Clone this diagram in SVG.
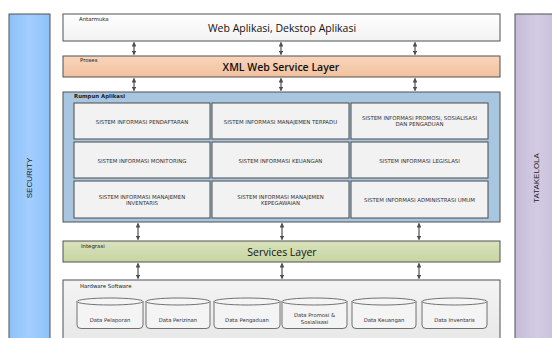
<svg xmlns="http://www.w3.org/2000/svg" width="552" height="338" viewBox="0 0 552 338">
<defs>
<linearGradient id="gSec" x1="0" y1="0" x2="1" y2="0">
<stop offset="0" stop-color="#8DC1FA"/><stop offset="0.5" stop-color="#A3CEFF"/><stop offset="1" stop-color="#8DC1FA"/>
</linearGradient>
<linearGradient id="gTata" x1="0" y1="0" x2="1" y2="0">
<stop offset="0" stop-color="#C6BCD9"/><stop offset="0.5" stop-color="#D3CBE2"/><stop offset="1" stop-color="#C6BCD9"/>
</linearGradient>
<linearGradient id="gWhite" x1="0" y1="0" x2="0" y2="1">
<stop offset="0" stop-color="#FFFFFF"/><stop offset="1" stop-color="#F2F2F2"/>
</linearGradient>
<linearGradient id="gPeach" x1="0" y1="0" x2="0" y2="1">
<stop offset="0" stop-color="#F9D5BC"/><stop offset="1" stop-color="#F2C19E"/>
</linearGradient>
<linearGradient id="gGreen" x1="0" y1="0" x2="0" y2="1">
<stop offset="0" stop-color="#D9E2BC"/><stop offset="1" stop-color="#C8D4A2"/>
</linearGradient>
<linearGradient id="gGrey" x1="0" y1="0" x2="0" y2="1">
<stop offset="0" stop-color="#F4F4F4"/><stop offset="1" stop-color="#E6E6E6"/>
</linearGradient>
<marker id="ah" viewBox="0 0 6 6" refX="5" refY="3" markerWidth="4" markerHeight="4" orient="auto-start-reverse">
<path d="M0,0 L6,3 L0,6 Z" fill="#505050"/>
</marker>
</defs>
<style>
.box{stroke:#505050;stroke-width:1}
.cell{fill:#F2F2F2;stroke:#4A4A4A;stroke-width:1}
.cyl{fill:#F4F4F4;stroke:#505050;stroke-width:0.8}
.lbl{font-family:"DejaVu Sans","Liberation Sans",sans-serif;font-size:5.4px;fill:#222}
.title{font-family:"Open Sans","Liberation Sans",sans-serif;font-size:10.5px;fill:#111;text-anchor:middle}
.ct{font-family:"DejaVu Sans","Liberation Sans",sans-serif;font-size:5.4px;fill:#333;text-anchor:middle}
.dt{font-family:"DejaVu Sans","Liberation Sans",sans-serif;font-size:5.3px;fill:#333;text-anchor:middle}
.side{font-family:"Liberation Sans",sans-serif;font-size:8px;fill:#222;text-anchor:middle}
.conn{stroke:#505050;stroke-width:1.2;fill:none;marker-start:url(#ah);marker-end:url(#ah)}
</style>

<g id="security">
<rect x="9" y="14" width="41" height="330" fill="url(#gSec)" stroke="#505050" stroke-width="1"/>
<text class="side" transform="translate(32,178) rotate(-90)">SECURITY</text>
</g>
<g id="tatakelola">
<rect x="515" y="14" width="45" height="330" fill="url(#gTata)" stroke="#505050" stroke-width="1"/>
<text class="side" transform="translate(539,178) rotate(-90)">TATAKELOLA</text>
</g>

<g id="antarmuka">
<rect class="box" x="63" y="14" width="437" height="27" fill="url(#gWhite)"/>
<text class="lbl" x="79" y="21">Antarmuka</text>
<text class="title" x="282" y="31.5">Web Aplikasi, Dekstop Aplikasi</text>
</g>

<g id="proses">
<rect class="box" x="63" y="56" width="437" height="21" fill="url(#gPeach)"/>
<text class="lbl" x="80" y="62">Proses</text>
<text class="title" x="281" y="70.5" font-weight="600">XML Web Service Layer</text>
</g>

<g id="rumpun">
<rect class="box" x="63" y="92" width="437" height="130" fill="#A9C6E0"/>
<text class="lbl" x="74" y="98" font-weight="bold">Rumpun Aplikasi</text>
</g>

<g id="c11"><rect class="cell" x="74" y="103" width="136" height="36"/><text class="ct" x="142" y="123.5">SISTEM INFORMASI PENDAFTARAN</text></g>
<g id="c12"><rect class="cell" x="212" y="103" width="137" height="36"/><text class="ct" x="280.5" y="123.5">SISTEM INFORMASI MANAJEMEN TERPADU</text></g>
<g id="c13"><rect class="cell" x="351" y="103" width="137" height="36"/><text class="ct" x="419.5" y="120">SISTEM INFORMASI PROMOSI, SOSIALISASI</text><text class="ct" x="419.5" y="126">DAN PENGADUAN</text></g>
<g id="c21"><rect class="cell" x="74" y="142" width="136" height="36"/><text class="ct" x="142" y="162.5">SISTEM INFORMASI MONITORING</text></g>
<g id="c22"><rect class="cell" x="212" y="142" width="137" height="36"/><text class="ct" x="280.5" y="162.5">SISTEM INFORMASI KEUANGAN</text></g>
<g id="c23"><rect class="cell" x="351" y="142" width="137" height="36"/><text class="ct" x="419.5" y="162.5">SISTEM INFORMASI LEGISLASI</text></g>
<g id="c31"><rect class="cell" x="74" y="181" width="136" height="37"/><text class="ct" x="142" y="198.5">SISTEM INFORMASI MANAJEMEN</text><text class="ct" x="142" y="204.5">INVENTARIS</text></g>
<g id="c32"><rect class="cell" x="212" y="181" width="137" height="37"/><text class="ct" x="280.5" y="198.5">SISTEM INFORMASI MANAJEMEN</text><text class="ct" x="280.5" y="204.5">KEPEGAWAIAN</text></g>
<g id="c33"><rect class="cell" x="351" y="181" width="137" height="37"/><text class="ct" x="419.5" y="201.5">SISTEM INFORMASI ADMINISTRASI UMUM</text></g>

<g id="integrasi">
<rect class="box" x="63" y="241" width="437" height="21" fill="url(#gGreen)"/>
<text class="lbl" x="81" y="248">Integrasi</text>
<text class="title" x="282" y="255.5">Services Layer</text>
</g>

<g id="hardware">
<rect class="box" x="63" y="280" width="437" height="70" fill="url(#gGrey)"/>
<text class="lbl" x="80" y="288">Hardware Software</text>
</g>

<g id="d1"><path class="cyl" d="M77,301.5 V325 Q77,328.5 81,328.5 H139 Q143,328.5 143,325 V301.5"/><ellipse class="cyl" cx="110" cy="301.5" rx="33" ry="3.5"/><text class="dt" x="110" y="321.5">Data Pelaporan</text></g>
<g id="d2"><path class="cyl" d="M146,301.5 V325 Q146,328.5 150,328.5 H206 Q210,328.5 210,325 V301.5"/><ellipse class="cyl" cx="178" cy="301.5" rx="32" ry="3.5"/><text class="dt" x="178" y="321.5">Data Perizinan</text></g>
<g id="d3"><path class="cyl" d="M214,301.5 V325 Q214,328.5 218,328.5 H276 Q280,328.5 280,325 V301.5"/><ellipse class="cyl" cx="247" cy="301.5" rx="33" ry="3.5"/><text class="dt" x="247" y="321.5">Data Pengaduan</text></g>
<g id="d4"><path class="cyl" d="M282,301.5 V325 Q282,328.5 286,328.5 H343 Q347,328.5 347,325 V301.5"/><ellipse class="cyl" cx="314.5" cy="301.5" rx="32.5" ry="3.5"/><text class="dt" x="314.5" y="317">Data Promosi &amp;</text><text class="dt" x="314.5" y="324">Sosialisasi</text></g>
<g id="d5"><path class="cyl" d="M352,301.5 V325 Q352,328.5 356,328.5 H412 Q416,328.5 416,325 V301.5"/><ellipse class="cyl" cx="384" cy="301.5" rx="32" ry="3.5"/><text class="dt" x="384" y="321.5">Data Keuangan</text></g>
<g id="d6"><path class="cyl" d="M422,301.5 V325 Q422,328.5 426,328.5 H483 Q487,328.5 487,325 V301.5"/><ellipse class="cyl" cx="454.5" cy="301.5" rx="32.5" ry="3.5"/><text class="dt" x="454.5" y="321.5">Data Inventaris</text></g>

<g id="connectors">
<line class="conn" x1="134" y1="42.5" x2="134" y2="54.5"/>
<line class="conn" x1="281" y1="42.5" x2="281" y2="54.5"/>
<line class="conn" x1="415" y1="42.5" x2="415" y2="54.5"/>
<line class="conn" x1="134" y1="78.5" x2="134" y2="90.5"/>
<line class="conn" x1="281" y1="78.5" x2="281" y2="90.5"/>
<line class="conn" x1="415" y1="78.5" x2="415" y2="90.5"/>
<line class="conn" x1="138" y1="223.5" x2="138" y2="239.5"/>
<line class="conn" x1="282" y1="223.5" x2="282" y2="239.5"/>
<line class="conn" x1="419" y1="223.5" x2="419" y2="239.5"/>
<line class="conn" x1="138" y1="263.5" x2="138" y2="278.5"/>
<line class="conn" x1="282" y1="263.5" x2="282" y2="278.5"/>
<line class="conn" x1="419" y1="263.5" x2="419" y2="278.5"/>
</g>
</svg>
